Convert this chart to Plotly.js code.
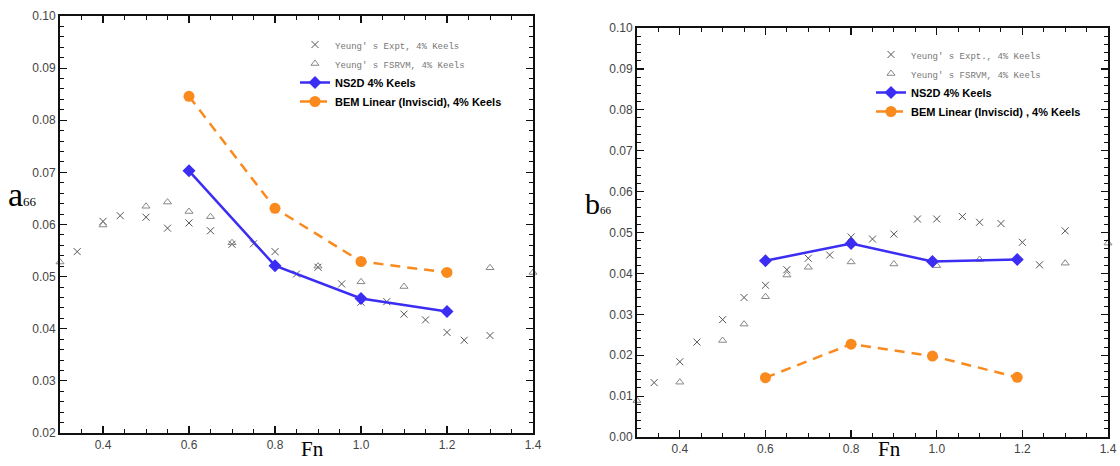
<!DOCTYPE html>
<html><head><meta charset="utf-8">
<script src="https://cdn.plot.ly/plotly-3.0.1.min.js"></script>
<style>html,body{margin:0;padding:0;background:#fff}#chart{width:1120px;height:466px}</style>
</head><body><div id="chart"></div>
<script>
// ---- Left panel: a66 ----
const fnNS = [0.6, 0.8, 1.0, 1.2];
const a66NS2D = [0.0703, 0.0521, 0.0458, 0.0433];
const a66BEM = [0.0846, 0.0631, 0.0529, 0.0508];
const fnExptA = [0.34, 0.40, 0.44, 0.50, 0.55, 0.60, 0.65, 0.70, 0.75, 0.80, 0.85, 0.90, 0.955, 1.00, 1.06, 1.10, 1.15, 1.20, 1.24, 1.30];
const a66Expt = [0.0548, 0.0606, 0.0617, 0.0614, 0.0593, 0.0603, 0.0588, 0.0562, 0.0563, 0.0548, 0.0505, 0.0518, 0.0486, 0.0451, 0.0452, 0.0428, 0.0417, 0.0393, 0.0378, 0.0387];
const fnFsrA = [0.30, 0.40, 0.50, 0.55, 0.60, 0.65, 0.70, 0.90, 1.00, 1.10, 1.30, 1.40];
const a66Fsrvm = [0.0528, 0.0599, 0.0635, 0.0643, 0.0625, 0.0615, 0.0565, 0.0520, 0.0490, 0.0481, 0.0517, 0.0508];

// ---- Right panel: b66 ----
const fnNSb = [0.6, 0.8, 0.99, 1.188];
const b66NS2D = [0.0431, 0.0473, 0.0429, 0.0434];
const b66BEM = [0.0145, 0.0227, 0.0198, 0.0146];
const fnExptB = [0.34, 0.40, 0.44, 0.50, 0.55, 0.60, 0.65, 0.70, 0.75, 0.80, 0.85, 0.90, 0.955, 1.00, 1.06, 1.10, 1.15, 1.20, 1.24, 1.30];
const b66Expt = [0.0133, 0.0184, 0.0232, 0.0287, 0.0341, 0.0371, 0.0409, 0.0437, 0.0445, 0.0489, 0.0484, 0.0496, 0.0533, 0.0533, 0.0539, 0.0525, 0.0522, 0.0476, 0.0421, 0.0504];
const fnFsrB = [0.30, 0.40, 0.50, 0.55, 0.60, 0.65, 0.70, 0.80, 0.90, 1.00, 1.10, 1.30, 1.40];
const b66Fsrvm = [0.0089, 0.0134, 0.0236, 0.0276, 0.0343, 0.0396, 0.0415, 0.0428, 0.0423, 0.0419, 0.0434, 0.0425, 0.0474];

const xTicks = [0.4, 0.6, 0.8, 1.0, 1.2, 1.4];
const namesA = ["Yeung' s Expt, 4% Keels", "Yeung' s FSRVM, 4% Keels", "NS2D 4% Keels", "BEM Linear (Inviscid), 4% Keels"];
const namesB = ["Yeung' s Expt., 4% Keels", "Yeung' s FSRVM, 4% Keels", "NS2D 4% Keels", "BEM Linear (Inviscid) , 4% Keels"];

const BLUE = '#3b2ef2', ORANGE = '#fa8a1e';
const grayName = n => "<span style='font-family:Liberation Mono, monospace;font-size:9px;color:#777'>" + n + "</span>";
const boldName = n => "<b>" + n + "</b>";
function exptTrace(x, y, name, xa, ya, lg) {
  return {x, y, name: grayName(name), xaxis: xa, yaxis: ya, legend: lg, type: 'scatter', mode: 'markers', cliponaxis: false,
    marker: {symbol: 'x-thin-open', size: 7, color: '#555', line: {width: 1, color: '#555'}}};
}
function fsrTrace(x, y, name, xa, ya, lg) {
  return {x, y, name: grayName(name), xaxis: xa, yaxis: ya, legend: lg, type: 'scatter', mode: 'markers', cliponaxis: false,
    marker: {symbol: 'triangle-up-open', size: 7, color: '#888', line: {width: 1, color: '#888'}}};
}
function nsTrace(x, y, name, xa, ya, lg) {
  return {x, y, name: boldName(name), xaxis: xa, yaxis: ya, legend: lg, type: 'scatter', mode: 'lines+markers', cliponaxis: false,
    line: {color: BLUE, width: 2.5}, marker: {symbol: 'diamond', size: 10, color: BLUE}};
}
function bemTrace(x, y, name, xa, ya, lg) {
  return {x, y, name: boldName(name), xaxis: xa, yaxis: ya, legend: lg, type: 'scatter', mode: 'lines+markers', cliponaxis: false,
    line: {color: ORANGE, width: 2.5, dash: '10px,7px'}, marker: {symbol: 'circle', size: 11, color: ORANGE}};
}

const data = [
  exptTrace(fnExptA, a66Expt, namesA[0], 'x', 'y', 'legend'),
  fsrTrace(fnFsrA, a66Fsrvm, namesA[1], 'x', 'y', 'legend'),
  nsTrace(fnNS, a66NS2D, namesA[2], 'x', 'y', 'legend'),
  bemTrace(fnNS, a66BEM, namesA[3], 'x', 'y', 'legend'),
  exptTrace(fnExptB, b66Expt, namesB[0], 'x2', 'y2', 'legend2'),
  fsrTrace(fnFsrB, b66Fsrvm, namesB[1], 'x2', 'y2', 'legend2'),
  nsTrace(fnNSb, b66NS2D, namesB[2], 'x2', 'y2', 'legend2'),
  bemTrace(fnNSb, b66BEM, namesB[3], 'x2', 'y2', 'legend2')
];

const W = 1120, H = 466;
const tickFont = {family: 'Arial, Liberation Sans, sans-serif', size: 12, color: '#444'};
function xAxis(dom, anchor) {
  return {domain: dom, anchor, range: [0.3, 1.4], tickvals: xTicks, tickformat: '.1f', ticks: 'inside', ticklen: 7,
    tickcolor: '#111', tickwidth: 1.2, showline: true, linecolor: '#111', linewidth: 2, mirror: 'allticks',
    showgrid: false, zeroline: false, tickfont: tickFont,
    minor: {dtick: 0.05, tick0: 0, ticks: 'inside', ticklen: 4, tickcolor: '#111', tickwidth: 1, showgrid: false}};
}
function yAxis(dom, anchor, range, dtick) {
  return {domain: dom, anchor, range, dtick, tick0: 0, tickformat: '.2f', ticks: 'inside', ticklen: 7,
    tickcolor: '#111', tickwidth: 1.2, showline: true, linecolor: '#111', linewidth: 2, mirror: 'allticks',
    showgrid: false, zeroline: false, tickfont: tickFont,
    minor: {dtick: 0.002, tick0: 0, ticks: 'inside', ticklen: 4, tickcolor: '#111', tickwidth: 1, showgrid: false}};
}
const legFont = {family: 'Arial, Liberation Sans, sans-serif', size: 11, color: '#000'};
function lg(xpx, ypx) {
  return {x: xpx / W, y: 1 - ypx / H, xanchor: 'left', yanchor: 'top', bgcolor: 'rgba(0,0,0,0)',
    borderwidth: 0, font: legFont, tracegroupgap: 0, itemclick: false, itemdoubleclick: false};
}
const serif = 'Liberation Serif, Times New Roman, serif';

const layout = {
  width: W, height: H, margin: {l: 0, r: 0, t: 0, b: 0}, paper_bgcolor: '#fff', plot_bgcolor: '#fff',
  showlegend: true,
  xaxis: xAxis([60 / W, 533 / W], 'y'),
  yaxis: yAxis([1 - 433 / H, 1 - 16 / H], 'x', [0.02, 0.10], 0.01),
  xaxis2: xAxis([637 / W, 1108 / W], 'y2'),
  yaxis2: yAxis([1 - 437 / H, 1 - 28 / H], 'x2', [0.0, 0.10], 0.01),
  legend: lg(295, 30),
  legend2: lg(871, 40),
  annotations: [
    {text: "a<span style='font-size:13px'>66</span>", x: 6 / W, y: 1 - 194 / H, xref: 'paper', yref: 'paper', xanchor: 'left', yanchor: 'middle',
      showarrow: false, font: {family: serif, size: 34, color: '#000'}},
    {text: "b<span style='font-size:11px'>66</span>", x: 583 / W, y: 1 - 203 / H, xref: 'paper', yref: 'paper', xanchor: 'left', yanchor: 'middle',
      showarrow: false, font: {family: serif, size: 30, color: '#000'}},
    {text: 'Fn', x: 312 / W, y: 1 - 449 / H, xref: 'paper', yref: 'paper', xanchor: 'center', yanchor: 'middle',
      showarrow: false, font: {family: serif, size: 21, color: '#000'}},
    {text: 'Fn', x: 889 / W, y: 1 - 449 / H, xref: 'paper', yref: 'paper', xanchor: 'center', yanchor: 'middle',
      showarrow: false, font: {family: serif, size: 21, color: '#000'}}
  ]
};
Plotly.newPlot('chart', data, layout, {displayModeBar: false, staticPlot: true});
</script></body></html>
